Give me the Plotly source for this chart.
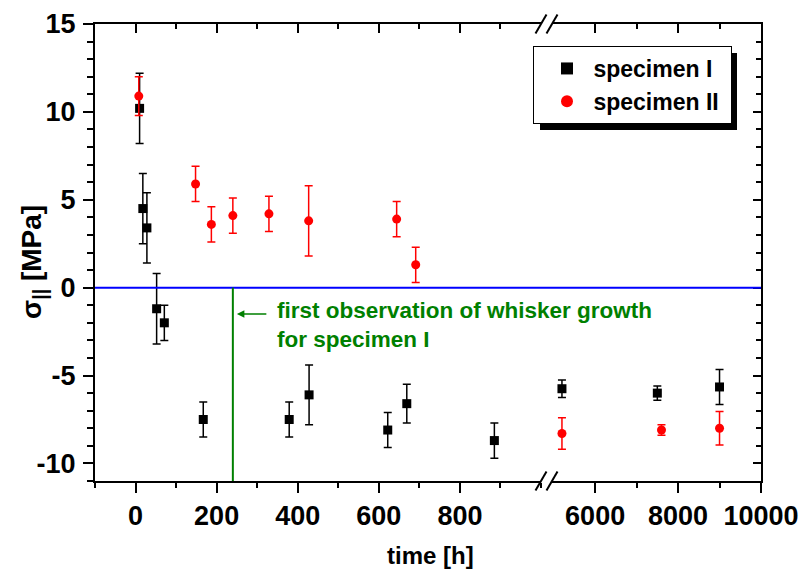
import plotly.graph_objects as go

# ---------------- data ----------------
# specimen I (black squares)
spec1_time_h = [10, 18, 28, 52, 71, 167, 379, 428, 622, 669, 885]
spec1_stress = [10.2, 4.5, 3.4, -1.2, -2.0, -7.5, -7.5, -6.1, -8.1, -6.6, -8.7]
spec1_err = [2.0, 2.0, 2.0, 2.0, 1.0, 1.0, 1.0, 1.7, 1.0, 1.1, 1.0]
spec1_time_long = [5200, 7500, 9000]
spec1_stress_long = [-5.75, -6.0, -5.65]
spec1_err_long = [0.5, 0.4, 1.0]

# specimen II (red circles)
spec2_time_h = [8, 148, 187, 240, 329, 427, 644, 691]
spec2_stress = [10.9, 5.9, 3.6, 4.1, 4.2, 3.8, 3.9, 1.3]
spec2_err = [1.1, 1.0, 1.0, 1.0, 1.0, 2.0, 1.0, 1.0]
spec2_time_long = [5200, 7600, 9000]
spec2_stress_long = [-8.3, -8.1, -8.0]
spec2_err_long = [0.9, 0.3, 0.95]

whisker_time = 240
zero_stress = 0

x_short_ticks = [0, 200, 400, 600, 800]
x_long_ticks = [6000, 8000, 10000]
x_long_minor = [7000, 9000]
y_ticks = [-10, -5, 0, 5, 10, 15]

legend_names = ["specimen I", "specimen II"]

# ---------------- layout constants ----------------
FONT = "Liberation Sans, Arial, sans-serif"
X_RANGE = [-100, 1000]
X2_RANGE = [4960, 10000]
Y_RANGE = [-11, 15]
PL, PR, PT, PB = 95, 761, 24, 481          # plot-area pixel box
PW, PH = PR - PL, PB - PT
D1 = (541 - PL) / PW
D2 = (552 - PL) / PW
GREEN = "#008000"
NB = "\u00a0"


def px(x):
    return (x - PL) / PW


def py(y):
    return (PB - y) / PH


fig = go.Figure()

fig.add_trace(go.Scatter(
    x=spec1_time_h, y=spec1_stress, mode="markers", name=NB + legend_names[0] + NB,
    xaxis="x", yaxis="y",
    marker=dict(symbol="square", size=9, color="black"),
    error_y=dict(type="data", array=spec1_err, color="black", thickness=1.5, width=4)))
fig.add_trace(go.Scatter(
    x=spec1_time_long, y=spec1_stress_long, mode="markers", name=legend_names[0],
    showlegend=False, xaxis="x2", yaxis="y",
    marker=dict(symbol="square", size=9, color="black"),
    error_y=dict(type="data", array=spec1_err_long, color="black", thickness=1.5, width=4)))
fig.add_trace(go.Scatter(
    x=spec2_time_h, y=spec2_stress, mode="markers", name=NB + legend_names[1] + NB,
    xaxis="x", yaxis="y",
    marker=dict(symbol="circle", size=9, color="#ff0000"),
    error_y=dict(type="data", array=spec2_err, color="#ff0000", thickness=1.5, width=4)))
fig.add_trace(go.Scatter(
    x=spec2_time_long, y=spec2_stress_long, mode="markers", name=legend_names[1],
    showlegend=False, xaxis="x2", yaxis="y",
    marker=dict(symbol="circle", size=9, color="#ff0000"),
    error_y=dict(type="data", array=spec2_err_long, color="#ff0000", thickness=1.5, width=4)))

# empty helper traces so the mirrored (inside-tick) frame axes are drawn
for xa, ya in [("x3", "y"), ("x4", "y"), ("x2", "y2")]:
    fig.add_trace(go.Scatter(x=[], y=[], xaxis=xa, yaxis=ya, showlegend=False,
                             hoverinfo="skip"))

tickfont = dict(family=FONT, size=27, color="black", weight="bold")
common = dict(showgrid=False, zeroline=False, showline=True, linecolor="black",
              linewidth=2, tickcolor="black", tickwidth=2, automargin=False)

fig.update_layout(
    width=803, height=572,
    margin=dict(l=PL, r=803 - PR, t=PT, b=572 - PB, autoexpand=False),
    paper_bgcolor="white", plot_bgcolor="white",
    showlegend=True,
    xaxis=dict(domain=[0, D1], range=X_RANGE, anchor="y", tickmode="array",
               tickvals=x_short_ticks, ticktext=[str(v) for v in x_short_ticks],
               ticks="outside", ticklen=10,
               minor=dict(dtick=100, tick0=0, ticks="outside", ticklen=5,
                          tickwidth=2, tickcolor="black"),
               tickfont=tickfont, **common),
    xaxis2=dict(domain=[D2, 1], range=X2_RANGE, anchor="y", tickmode="array",
                tickvals=x_long_ticks, ticktext=[str(v) for v in x_long_ticks],
                ticks="outside", ticklen=10,
                minor=dict(tickmode="array", tickvals=x_long_minor, ticks="outside",
                           ticklen=5, tickwidth=2, tickcolor="black"),
                tickfont=tickfont, **common),
    xaxis3=dict(overlaying="x", side="top", anchor="y", range=X_RANGE,
                tickmode="array", tickvals=x_short_ticks, ticks="inside", ticklen=9,
                showticklabels=False,
                minor=dict(dtick=100, tick0=0, ticks="inside", ticklen=5,
                           tickwidth=2, tickcolor="black"),
                **common),
    xaxis4=dict(overlaying="x2", side="top", anchor="y", range=X2_RANGE,
                tickmode="array", tickvals=x_long_ticks, ticks="inside", ticklen=9,
                showticklabels=False,
                minor=dict(tickmode="array", tickvals=x_long_minor, ticks="inside",
                           ticklen=5, tickwidth=2, tickcolor="black"),
                **common),
    yaxis=dict(range=Y_RANGE, anchor="x", tickmode="array", tickvals=y_ticks,
               ticktext=[str(v) for v in y_ticks],
               ticks="outside", ticklen=10,
               minor=dict(dtick=1, tick0=0, ticks="outside", ticklen=6,
                          tickwidth=2, tickcolor="black"),
               tickfont=tickfont, ticklabelstandoff=2, **common),
    yaxis2=dict(overlaying="y", side="right", anchor="x2", range=Y_RANGE,
                tickmode="array", tickvals=y_ticks, ticks="inside", ticklen=8,
                showticklabels=False,
                minor=dict(dtick=1, tick0=0, ticks="inside", ticklen=5,
                           tickwidth=2, tickcolor="black"),
                **common),
    legend=dict(x=px(533), y=py(46), xanchor="left", yanchor="top",
                bgcolor="white", bordercolor="black", borderwidth=1,
                font=dict(family=FONT, size=23, color="black", weight="bold"),
                indentation=13, itemsizing="constant", tracegroupgap=0),
)

# legend shadow (offset copy of the legend box)
fig.add_shape(type="rect", xref="paper", yref="paper", layer="above",
              x0=px(540), x1=px(737),
              y0=py(130), y1=py(53),
              fillcolor="black", line=dict(width=0))

# zero line and whisker-growth marker
fig.add_shape(type="line", xref="paper", yref="y", x0=0, x1=1,
              y0=zero_stress, y1=zero_stress, line=dict(color="#0000ff", width=2))
fig.add_shape(type="line", xref="x", yref="y", x0=whisker_time, x1=whisker_time,
              y0=Y_RANGE[0], y1=zero_stress, line=dict(color=GREEN, width=2))

# axis-break slashes
for xa in (D1, D2):
    for ya in (0, 1):
        fig.add_shape(type="line", xref="paper", yref="paper",
                      xsizemode="pixel", xanchor=xa, x0=-5.5, x1=5.5,
                      ysizemode="pixel", yanchor=ya, y0=-9.5, y1=9.5,
                      line=dict(color="black", width=2))

# annotation arrow & texts
fig.add_annotation(x=whisker_time, y=-1.5, xref="x", yref="y", text="",
                   showarrow=True, axref="pixel", ayref="pixel", ax=35, ay=0,
                   arrowhead=2, arrowsize=1, arrowwidth=1.5, arrowcolor=GREEN,
                   standoff=4)
afont = dict(family=FONT, size=22.5, color=GREEN, weight="bold")
fig.add_annotation(x=whisker_time + 105, y=-1.3, xref="x", yref="y",
                   text="first observation of whisker growth", showarrow=False,
                   xanchor="left", yanchor="middle", font=afont)
fig.add_annotation(x=whisker_time + 105, y=-2.95, xref="x", yref="y",
                   text="for specimen I", showarrow=False,
                   xanchor="left", yanchor="middle", font=afont)

# axis titles
fig.add_annotation(x=px(430), y=py(555), xref="paper", yref="paper",
                   text="time [h]", showarrow=False, xanchor="center", yanchor="middle",
                   font=dict(family=FONT, size=24, color="black", weight="bold"))
fig.add_annotation(x=px(33), y=py(262), xref="paper", yref="paper",
                   text="σ<sub>||</sub> [MPa]", showarrow=False, textangle=-90,
                   xanchor="center", yanchor="middle",
                   font=dict(family=FONT, size=28, color="black", weight="bold"))

fig.write_html("out.html")
